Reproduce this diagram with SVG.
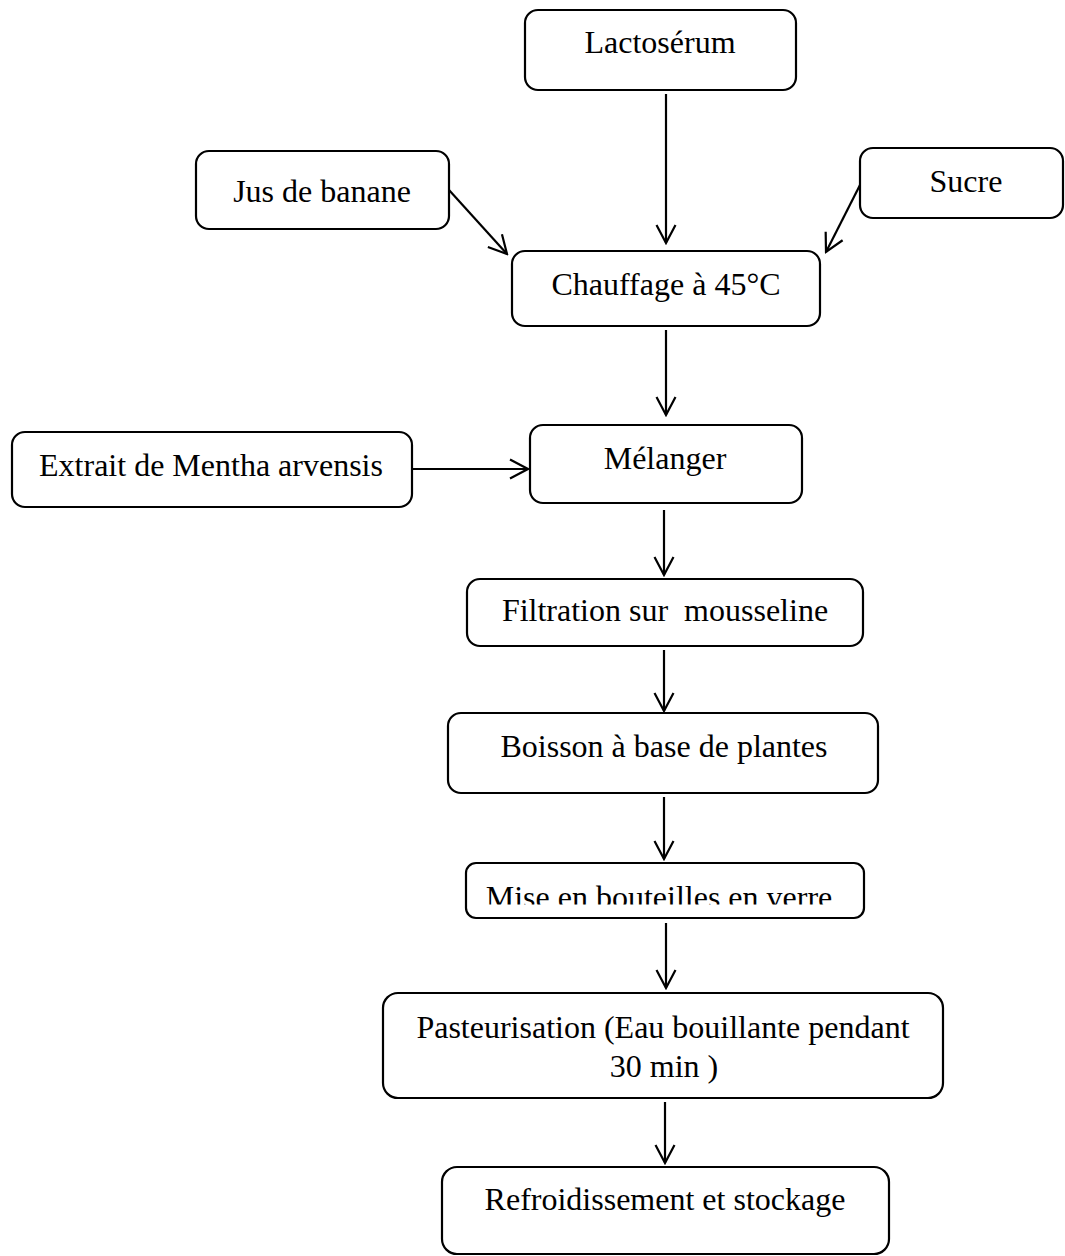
<svg xmlns="http://www.w3.org/2000/svg" width="1065" height="1256" viewBox="0 0 1065 1256">
<style>
.box{fill:#fff;stroke:#000;stroke-width:2.2}
.lbl{font-family:"Liberation Serif","Times New Roman",serif;font-size:32px;fill:#000;text-anchor:middle}
.con{fill:none;stroke:#000;stroke-width:2.2;marker-end:url(#arr)}
</style>
<defs>
<marker id="arr" viewBox="-20 -11 22 22" refX="0" refY="0" markerWidth="22" markerHeight="22" markerUnits="userSpaceOnUse" orient="auto">
<path d="M-18,-9.5 L0,0 L-18,9.5" fill="none" stroke="#000" stroke-width="2.2"/>
</marker>
<clipPath id="clipMise"><rect x="466" y="863" width="398" height="41.5"/></clipPath>
</defs>
<rect width="1065" height="1256" fill="#fff"/>
<g id="connectors">
<line class="con" x1="666" y1="94" x2="666" y2="243"/>
<line class="con" x1="449" y1="190" x2="507" y2="254"/>
<line class="con" x1="860" y1="185" x2="826" y2="252"/>
<line class="con" x1="666" y1="330" x2="666" y2="415"/>
<line class="con" x1="412" y1="469" x2="528" y2="469"/>
<line class="con" x1="664" y1="510" x2="664" y2="575"/>
<line class="con" x1="664" y1="650" x2="664" y2="711"/>
<line class="con" x1="664" y1="797" x2="664" y2="859"/>
<line class="con" x1="666" y1="923" x2="666" y2="988"/>
<line class="con" x1="665" y1="1102" x2="665" y2="1163"/>
</g>
<g id="lactoserum"><rect class="box" x="525" y="10" width="271" height="80" rx="13"/><text class="lbl" x="660" y="53">Lactosérum</text></g>
<g id="jus-banane"><rect class="box" x="196" y="151" width="253" height="78" rx="13"/><text class="lbl" x="322" y="202">Jus de banane</text></g>
<g id="sucre"><rect class="box" x="860" y="148" width="203" height="70" rx="13"/><text class="lbl" x="966" y="192">Sucre</text></g>
<g id="chauffage"><rect class="box" x="512" y="251" width="308" height="75" rx="13"/><text class="lbl" x="666" y="295">Chauffage à 45°C</text></g>
<g id="extrait"><rect class="box" x="12" y="432" width="400" height="75" rx="13"/><text class="lbl" x="211" y="476">Extrait de Mentha arvensis</text></g>
<g id="melanger"><rect class="box" x="530" y="425" width="272" height="78" rx="13"/><text class="lbl" x="665" y="469">Mélanger</text></g>
<g id="filtration"><rect class="box" x="467" y="579" width="396" height="67" rx="13"/><text class="lbl" x="665" y="621" xml:space="preserve">Filtration sur  mousseline</text></g>
<g id="boisson"><rect class="box" x="448" y="713" width="430" height="80" rx="13"/><text class="lbl" x="664" y="757">Boisson à base de plantes</text></g>
<g id="mise"><rect class="box" x="466" y="863" width="398" height="55" rx="10"/><text class="lbl" x="659" y="908" clip-path="url(#clipMise)">Mise en bouteilles en verre</text></g>
<g id="pasteurisation"><rect class="box" x="383" y="993" width="560" height="105" rx="15"/><text class="lbl" x="663" y="1038">Pasteurisation (Eau bouillante pendant</text><text class="lbl" x="664" y="1077">30 min )</text></g>
<g id="refroidissement"><rect class="box" x="442" y="1167" width="447" height="87" rx="15"/><text class="lbl" x="665" y="1210">Refroidissement et stockage</text></g>
</svg>
